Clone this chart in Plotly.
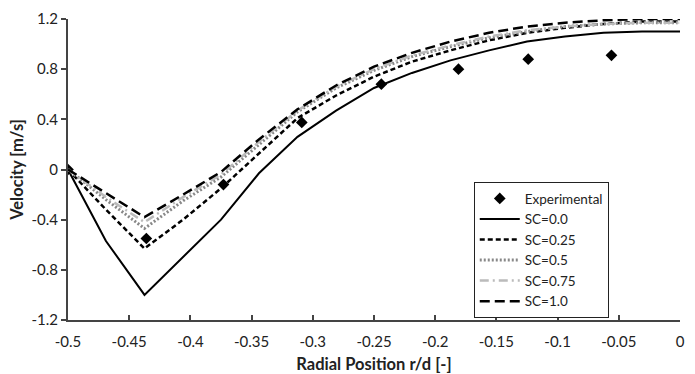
import plotly.graph_objects as go

# Data
exp_x = [-0.5, -0.436, -0.373, -0.309, -0.244, -0.181, -0.124, -0.056]
exp_y = [0.0, -0.55, -0.12, 0.375, 0.68, 0.80, 0.88, 0.91]

cfd_x = [-0.5, -0.469, -0.4375, -0.406, -0.375, -0.344, -0.3125, -0.281, -0.25,
         -0.219, -0.1875, -0.156, -0.125, -0.094, -0.0625, -0.031, 0.0]
sc_00 = [0.0, -0.57, -1.0, -0.70, -0.40, -0.03, 0.26, 0.47, 0.65, 0.77, 0.87, 0.95, 1.02, 1.06, 1.09, 1.10, 1.10]
sc_025 = [0.0, -0.32, -0.63, -0.40, -0.15, 0.13, 0.41, 0.59, 0.74, 0.86, 0.95, 1.03, 1.09, 1.13, 1.16, 1.18, 1.18]
sc_05 = [0.0, -0.24, -0.47, -0.25, -0.06, 0.20, 0.46, 0.65, 0.79, 0.90, 0.98, 1.05, 1.10, 1.14, 1.16, 1.17, 1.17]
sc_075 = [0.0, -0.22, -0.42, -0.22, -0.04, 0.22, 0.47, 0.66, 0.80, 0.91, 0.99, 1.06, 1.11, 1.14, 1.16, 1.17, 1.17]
sc_10 = [0.0, -0.19, -0.38, -0.20, -0.02, 0.24, 0.48, 0.67, 0.82, 0.93, 1.02, 1.09, 1.14, 1.17, 1.19, 1.20, 1.20]

x_ticks = [-0.5, -0.45, -0.4, -0.35, -0.3, -0.25, -0.2, -0.15, -0.1, -0.05, 0]
x_tick_labels = ["-0.5", "-0.45", "-0.4", "-0.35", "-0.3", "-0.25", "-0.2", "-0.15", "-0.1", "-0.05", "0"]
y_ticks = [-1.2, -0.8, -0.4, 0, 0.4, 0.8, 1.2]
y_tick_labels = ["-1.2", "-0.8", "-0.4", "0", "0.4", "0.8", "1.2"]

FONT = "Lato, 'Open Sans', sans-serif"

fig = go.Figure()
fig.add_trace(go.Scatter(x=exp_x, y=exp_y, mode="markers", name="Experimental",
                         marker=dict(symbol="diamond", size=9, color="black")))
fig.add_trace(go.Scatter(x=cfd_x, y=sc_00, mode="lines", name="SC=0.0",
                         line=dict(color="black", width=2)))
fig.add_trace(go.Scatter(x=cfd_x, y=sc_025, mode="lines", name="SC=0.25",
                         line=dict(color="black", width=2.5, dash="5px,3px")))
fig.add_trace(go.Scatter(x=cfd_x, y=sc_05, mode="lines", name="SC=0.5",
                         line=dict(color="#888888", width=3, dash="2px,2px")))
fig.add_trace(go.Scatter(x=cfd_x, y=sc_075, mode="lines", name="SC=0.75",
                         line=dict(color="#bbbbbb", width=2.5, dash="9px,4px,2px,4px")))
fig.add_trace(go.Scatter(x=cfd_x, y=sc_10, mode="lines", name="SC=1.0",
                         line=dict(color="black", width=2.5, dash="10px,5px")))

fig.update_layout(
    width=695, height=374,
    margin=dict(l=68, r=15, t=19, b=54),
    plot_bgcolor="white", paper_bgcolor="white",
    font=dict(family=FONT, size=15, color="#222222"),
    showlegend=True,
    legend=dict(x=0.663, y=0.458, xanchor="left", yanchor="top",
                bordercolor="#222222", borderwidth=1, bgcolor="white",
                font=dict(size=13.5), tracegroupgap=0, itemwidth=40),
)
fig.update_xaxes(
    range=[-0.5, 0], tickvals=x_ticks, ticktext=x_tick_labels,
    showgrid=False, zeroline=False, showline=True, linecolor="#444444", linewidth=2,
    ticks="inside", ticklen=5, tickwidth=1.5, tickcolor="#444444",
    ticklabelstandoff=7, automargin=False,
    title=dict(text="<b>Radial Position r/d [-]</b>", font=dict(size=16.5), standoff=10),
)
fig.update_yaxes(
    range=[-1.2, 1.2], tickvals=y_ticks, ticktext=y_tick_labels,
    showgrid=False, zeroline=False, showline=True, linecolor="#444444", linewidth=2,
    ticks="outside", ticklen=5, tickwidth=1.5, tickcolor="#444444",
    automargin=False,
    title=dict(text="<b>Velocity [m/s]</b>", font=dict(size=16.5), standoff=4),
)

fig.write_html("out.html")
